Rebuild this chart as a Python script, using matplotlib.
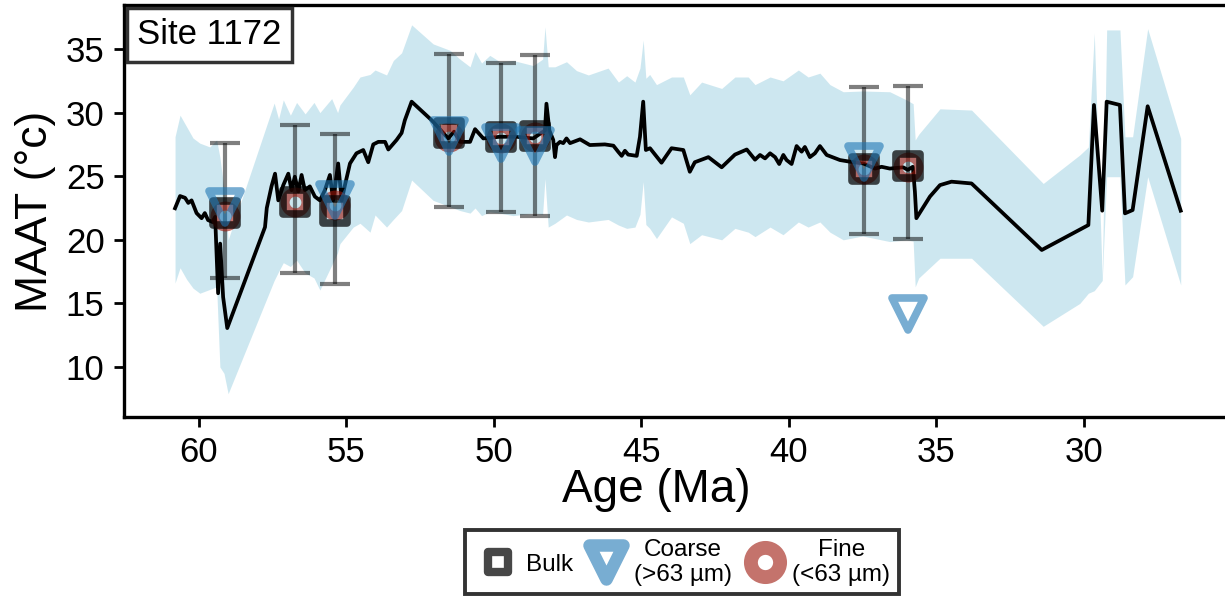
import matplotlib
matplotlib.use('Agg')
from matplotlib import pyplot as plt
from matplotlib.lines import Line2D
from matplotlib.markers import MarkerStyle

plt.rcParams['font.family'] = ['Liberation Sans', 'DejaVu Sans']

# smoothed MAAT record (age in Ma, temperature in degC)
line_age = [60.81, 60.64, 60.47, 60.36, 60.25, 60.08, 59.91, 59.80, 59.69, 59.54,
            59.45, 59.35, 59.28, 59.18, 59.04, 57.76, 57.70, 57.54, 57.42, 57.31,
            57.14, 56.97, 56.86, 56.75, 56.63, 56.52, 56.41, 56.24, 56.07, 55.90,
            55.73, 55.56, 55.45, 55.28, 55.16, 55.05, 54.88, 54.66, 54.43, 54.26,
            54.09, 53.92, 53.69, 53.58, 53.30, 53.13, 53.02, 52.79, 52.11, 51.55,
            51.35, 51.15, 50.81, 50.64, 50.36, 49.80, 49.23, 48.67, 48.27, 48.22,
            48.12, 47.99, 47.93, 47.88, 47.76, 47.65, 47.54, 47.42, 47.08, 46.75,
            46.24, 45.95, 45.78, 45.67, 45.56, 45.45, 45.16, 45.05, 44.94, 44.85,
            44.71, 44.54, 44.32, 43.98, 43.58, 43.36, 43.19, 42.73, 42.28, 41.83,
            41.43, 41.15, 40.98, 40.81, 40.64, 40.47, 40.33, 40.19, 40.08, 39.91,
            39.74, 39.57, 39.46, 39.29, 39.12, 38.95, 38.72, 38.27, 37.93, 37.48,
            37.08, 36.86, 36.58, 36.13, 35.97, 35.80, 35.73, 35.68, 35.22, 34.88,
            34.49, 33.81, 31.43, 29.85, 29.66, 29.38, 29.23, 28.78, 28.61, 28.35,
            27.84, 26.72]
line_maat = [22.48, 23.44, 23.30, 22.90, 23.10, 22.10, 21.70, 22.10, 21.55, 21.40,
             21.80, 15.80, 19.70, 15.50, 13.06, 21.00, 22.50, 24.20, 25.20, 23.10,
             24.30, 25.20, 23.90, 24.96, 23.80, 25.10, 23.90, 24.20, 23.40, 23.10,
             23.90, 25.10, 23.10, 26.00, 23.10, 24.30, 26.00, 26.80, 27.06, 26.10,
             27.50, 27.70, 27.70, 27.10, 27.85, 28.40, 29.40, 30.86, 29.40, 27.97,
             28.50, 27.70, 27.70, 28.70, 27.97, 28.10, 28.10, 27.97, 28.60, 30.70,
             28.60, 27.85, 26.50, 27.45, 27.70, 27.60, 27.97, 27.60, 27.90, 27.45,
             27.50, 27.40, 26.90, 26.60, 27.00, 26.70, 26.60, 28.10, 30.86, 27.06,
             27.20, 26.70, 26.06, 27.20, 27.06, 25.35, 26.10, 26.50, 25.70, 26.70,
             27.10, 26.30, 26.67, 26.40, 26.80, 26.50, 25.96, 26.67, 26.27, 25.96,
             27.37, 26.93, 27.30, 26.50, 26.80, 27.37, 26.67, 26.27, 26.14, 26.00,
             25.60, 25.74, 25.60, 25.70, 25.50, 25.74, 23.78, 21.70, 23.40, 24.30,
             24.57, 24.43, 19.20, 21.16, 30.60, 22.29, 30.86, 30.60, 22.08, 22.34,
             30.50, 22.29]

# uncertainty envelope
env_age = [60.81, 60.64, 60.42, 60.20, 59.97, 59.63, 59.40, 59.29, 59.15, 59.01,
           57.45, 57.30, 57.14, 56.90, 56.69, 56.40, 56.10, 55.90, 55.50, 55.30,
           55.22, 54.77, 54.54, 54.20, 54.03, 53.64, 53.41, 53.13, 52.79, 52.06,
           51.49, 51.15, 50.81, 50.64, 50.42, 50.14, 49.80, 49.35, 48.67, 48.35,
           48.27, 48.16, 47.93, 47.54, 47.20, 46.80, 46.13, 45.78, 45.50, 45.22,
           45.05, 44.94, 44.85, 44.72, 44.49, 43.98, 43.58, 43.36, 42.96, 42.28,
           41.83, 41.38, 41.15, 40.64, 40.20, 39.68, 39.35, 38.95, 38.61, 38.16,
           37.50, 36.58, 36.02, 35.79, 35.72, 35.60, 34.88, 33.81, 31.38, 30.14,
           29.85, 29.65, 29.38, 29.23, 28.78, 28.61, 28.35, 27.84, 26.72]
env_hi = [28.1, 29.8, 28.9, 28.0, 27.6, 27.3, 27.85, 26.5, 24.0, 20.0,
          30.75, 29.5, 31.0, 29.8, 30.8, 29.9, 30.8, 30.0, 31.1, 30.0,
          30.6, 32.0, 32.8, 33.0, 33.35, 32.96, 34.1, 34.7, 36.9, 35.4,
          34.9, 34.2, 33.6, 34.8, 33.9, 34.5, 34.0, 34.1, 33.7, 34.2,
          36.75, 33.6, 33.6, 34.0, 33.3, 32.96, 33.5, 32.4, 32.9, 32.4,
          33.5, 35.7, 32.7, 33.0, 32.2, 32.8, 32.8, 31.4, 32.4, 31.9,
          32.8, 32.8, 32.2, 32.8, 32.5, 33.35, 32.8, 33.1, 32.2, 31.64,
          31.7, 31.64, 31.0, 30.7, 27.85, 28.3, 30.3, 30.2, 24.43, 26.67,
          27.3, 36.25, 17.0, 36.5, 36.5, 28.1, 28.1, 36.6, 27.97]
env_lo = [16.6, 17.8, 16.9, 16.2, 15.8, 16.1, 16.3, 10.0, 9.5, 7.9,
          16.8, 17.5, 18.2, 17.9, 18.4, 17.4, 17.0, 16.05, 18.0, 19.0,
          19.7, 21.0, 21.3, 20.6, 21.95, 21.0, 21.6, 22.3, 24.7, 23.1,
          22.6, 22.3, 22.1, 22.5, 21.9, 22.2, 22.1, 21.9, 22.1, 22.0,
          24.8, 21.0, 21.3, 21.95, 21.6, 21.4, 21.6, 21.16, 20.9, 21.0,
          22.0, 24.57, 21.2, 20.9, 20.1, 21.8, 21.3, 19.7, 20.4, 20.0,
          20.9, 20.6, 20.25, 21.0, 20.4, 21.4, 21.0, 21.4, 20.6, 20.0,
          20.3, 19.86, 20.0, 19.9, 16.3, 17.0, 18.55, 18.55, 13.2, 15.0,
          15.8, 16.0, 16.8, 24.96, 24.96, 16.45, 17.1, 24.96, 16.45]

# discrete samples
sample_age = [59.12, 56.75, 55.39, 51.53, 49.76, 48.61, 37.46, 35.97]
bulk = [22.1, 23.0, 22.3, 28.4, 28.1, 28.2, 25.6, 25.8]
err_lo = [17.0, 17.4, 16.5, 22.6, 22.2, 21.9, 20.45, 20.1]
err_hi = [27.6, 29.0, 28.3, 34.6, 33.9, 34.5, 32.0, 32.1]
fine = [21.9, 23.0, 22.7, 28.1, 28.0, 28.1, 25.6, 25.7]
coarse_age = [59.12, 55.39, 51.53, 49.76, 48.61, 37.46, 35.97]
coarse = [22.6, 23.1, 28.2, 27.6, 27.4, 26.1, 14.2]

bulk_col = (0, 0, 0, 0.72)
coarse_col = (31 / 255, 119 / 255, 180 / 255, 0.6)
fine_col = (157 / 255, 22 / 255, 10 / 255, 0.6)

fig = plt.figure(figsize=(12.25, 5.96), dpi=100)
ax = fig.add_axes([124 / 1225, 179 / 596, 1116 / 1225, 412 / 596])

ax.fill_between(env_age, env_lo, env_hi, color='lightblue', alpha=0.6, lw=0, zorder=1)
ax.plot(line_age, line_maat, color='black', lw=2.7, zorder=2)

yerr = [[b - lo for b, lo in zip(bulk, err_lo)], [hi - b for b, hi in zip(bulk, err_hi)]]
ax.errorbar(sample_age, bulk, yerr=yerr, fmt='none', ecolor=(0, 0, 0, 0.5),
            elinewidth=3, capsize=11, capthick=3, zorder=3)

rnd = dict(joinstyle='round')
ax.plot(sample_age, fine, ls='none', marker=MarkerStyle('o', **rnd), ms=15, mew=6.5,
        mfc='none', mec=fine_col, zorder=4)
ax.plot(sample_age, bulk, ls='none', marker=MarkerStyle('s', **rnd), ms=17, mew=5.5,
        mfc='none', mec=bulk_col, zorder=5)
ax.plot(coarse_age, coarse, ls='none', marker=MarkerStyle('v', **rnd), ms=23, mew=5.5,
        mfc='none', mec=coarse_col, zorder=6)

ax.set_xlim(62.54, 24.71)
ax.set_ylim(6.07, 38.46)
ax.set_xticks([60, 55, 50, 45, 40, 35, 30])
ax.set_yticks([10, 15, 20, 25, 30, 35])
ax.tick_params(width=2, length=7, labelsize=25, pad=7, color='black')
for s in ax.spines.values():
    s.set_linewidth(2.4)

ax.set_xlabel('Age (Ma)', fontsize=33)
ax.set_ylabel('MAAT (°c)', fontsize=32)
ax.xaxis.set_label_coords((656 - 124) / 1116, -0.125)
ax.yaxis.set_label_coords(-0.0797, 0.5)
ax.yaxis.label.set_va('center')

ax.text(0.0118, 0.968, 'Site 1172', transform=ax.transAxes, fontsize=25,
        ha='left', va='top', zorder=10,
        bbox=dict(boxstyle='square,pad=0.3', fc='white', ec='#333333', lw=2.5))

handles = [
    Line2D([], [], ls='none', marker=MarkerStyle('s', **rnd), ms=14, mew=6, mfc='none', mec=bulk_col),
    Line2D([], [], ls='none', marker=MarkerStyle('v', **rnd), ms=25, mew=9, mfc='none', mec=coarse_col),
    Line2D([], [], ls='none', marker=MarkerStyle('o', **rnd), ms=21, mew=10, mfc='none', mec=fine_col),
]
labels = ['Bulk', 'Coarse\n(>63 µm)', 'Fine\n(<63 µm)']
leg = fig.legend(handles, labels, loc='upper center', bbox_to_anchor=(682 / 1225, 1 - 530 / 596),
                 ncol=3, fontsize=17.5, frameon=True, fancybox=False, edgecolor='#333333',
                 framealpha=1, handlelength=2.0, handletextpad=0.15, columnspacing=0.35,
                 borderpad=0.35, borderaxespad=0)
leg.get_frame().set_linewidth(2.8)
for t in leg.get_texts():
    t.set_multialignment('center')

fig.savefig('out.png', dpi=100)
